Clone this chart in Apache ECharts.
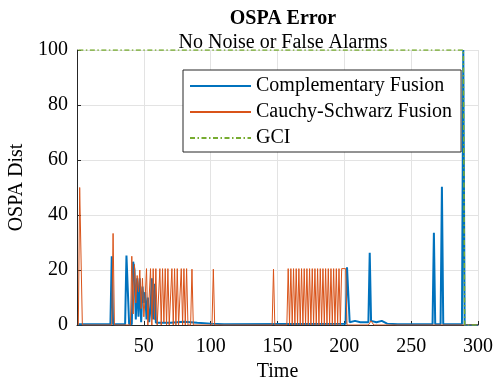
<!DOCTYPE html>
<html>
<head>
<meta charset="utf-8">
<script src="https://cdn.jsdelivr.net/npm/echarts@6/dist/echarts.min.js"></script>
<style>
  html, body { margin: 0; padding: 0; background: #fff; }
  #chart { width: 500px; height: 383px; }
</style>
</head>
<body>
<div id="chart"></div>
<script>
// OSPA distance over time for three fusion strategies, as [time, value] vertices.
const seriesNames = ['Complementary Fusion', 'Cauchy-Schwarz Fusion', 'GCI'];

const complementary = [
  [1, 0.3], [25, 0.3], [26, 25], [27, 0.3], [36, 0.3], [37, 25.3], [38, 25.3], [39, 0.3],
  [41, 0.3], [42, 23], [43, 20], [44, 2], [45, 17], [46, 3], [47, 17], [48, 1], [49, 14],
  [50, 8], [51, 12], [52, 2], [53, 10], [54, 1], [55, 6], [56, 17], [57, 2], [58, 15],
  [59, 0.8], [70, 0.8], [80, 1.2], [90, 0.8], [100, 0.5], [110, 0.3], [201, 0.5],
  [202, 21], [203, 21], [204, 1], [208, 1.5], [212, 1], [218, 1], [219, 26.3], [220, 1.5],
  [224, 1], [228, 1.5], [232, 0.5], [240, 0.3], [266, 0.3], [267, 33.5], [268, 0.3],
  [272, 0.3], [273, 50.3], [274, 0.3], [288, 0.3], [289, 100], [290, 0], [300, 0]
];

const cauchySchwarz = [
  [1, 0], [2, 50], [3, 50], [4, 0], [26, 0], [27, 33.3], [28, 0], [40, 0],
  [41, 25], [42, 4], [43, 22], [44, 8], [45, 18], [46, 12], [47, 20], [48, 6], [49, 17],
  [50, 3], [51, 10], [52, 20.5], [53, 0], [54, 0], [55, 20.5], [56, 0], [57, 20.5], [58, 2],
  [59, 20.5], [60, 0], [61, 0], [62, 20.5], [63, 0], [64, 20.5], [65, 1], [66, 20.5], [67, 0],
  [68, 20.5], [69, 0], [70, 0], [71, 20.5], [72, 0], [73, 20.5], [74, 0], [75, 20.5], [76, 0],
  [77, 0], [78, 20.5], [79, 0], [80, 20.5], [81, 0], [82, 20.5], [83, 0], [85, 0], [86, 20.3],
  [87, 0], [101, 0], [102, 20.3], [103, 0], [146, 0], [147, 20.3], [148, 0], [157, 0],
  [158, 20.5], [159, 0], [160, 20.5], [161, 0], [162, 20.5], [163, 0], [164, 20.5], [165, 0],
  [166, 20.5], [167, 0], [168, 20.5], [169, 0], [170, 20.5], [171, 0], [172, 20.5], [173, 0],
  [174, 20.5], [175, 0], [176, 20.5], [177, 0], [178, 20.5], [179, 0], [180, 20.5], [181, 0],
  [182, 20.5], [183, 0], [184, 20.5], [185, 0], [186, 20.5], [187, 0], [188, 20.5], [189, 0],
  [190, 20.5], [191, 0], [192, 20.5], [193, 0], [194, 20.5], [195, 0], [196, 20.5], [197, 0],
  [198, 20.5], [201, 20.5], [202, 0], [218, 0], [220, 1.5], [222, 0], [300, 0]
];

const gci = [[1, 100], [289, 100], [290, 0], [300, 0]];

const xTicks = [50, 100, 150, 200, 250, 300];
const yTicks = [0, 20, 40, 60, 80, 100];

const FONT = "'Liberation Serif', 'Times New Roman', serif";
const AXIS = '#262626';
const GRID = '#e3e3e3';

const chart = echarts.init(document.getElementById('chart'), null, { renderer: 'canvas' });

chart.setOption({
  animation: false,
  backgroundColor: '#fff',
  title: [
    {
      text: 'OSPA Error', left: 278, top: 4, textAlign: 'center',
      textStyle: { fontFamily: FONT, fontSize: 20, fontWeight: 'bold', color: '#000' }
    },
    {
      text: 'No Noise or False Alarms', left: 278, top: 28, textAlign: 'center',
      textStyle: { fontFamily: FONT, fontSize: 20, fontWeight: 'normal', color: '#000' }
    }
  ],
  grid: { left: 77, right: 22, top: 50, bottom: 58, containLabel: false, outerBoundsMode: 'none' },
  legend: {
    data: seriesNames,
    orient: 'vertical',
    left: 183, top: 70,
    padding: [6, 9, 4, 6],
    itemWidth: 61, itemHeight: 14, itemGap: 6,
    backgroundColor: '#fff', borderColor: AXIS, borderWidth: 1,
    itemStyle: { opacity: 0 },
    textStyle: { fontFamily: FONT, fontSize: 20, color: '#000' }
  },
  xAxis: {
    type: 'value', min: 0, max: 300, interval: 50,
    name: 'Time', nameLocation: 'middle', nameGap: 36,
    nameTextStyle: { fontFamily: FONT, fontSize: 20, color: '#000' },
    axisLine: { show: true, onZero: false, lineStyle: { color: AXIS, width: 1 } },
    axisTick: { show: true, inside: true, length: 4, lineStyle: { color: AXIS } },
    axisLabel: {
      fontFamily: FONT, fontSize: 20, color: '#000', margin: 12,
      formatter: v => (xTicks.indexOf(v) >= 0 ? String(v) : '')
    },
    splitLine: { show: true, lineStyle: { color: GRID, width: 1 } }
  },
  yAxis: {
    type: 'value', min: yTicks[0], max: yTicks[yTicks.length - 1], interval: 20,
    name: 'OSPA Dist', nameLocation: 'middle', nameGap: 36, nameRotate: 90,
    nameTextStyle: { fontFamily: FONT, fontSize: 20, color: '#000' },
    axisLine: { show: true, lineStyle: { color: AXIS, width: 1 } },
    axisTick: { show: true, inside: true, length: 4, lineStyle: { color: AXIS } },
    axisLabel: { fontFamily: FONT, fontSize: 20, color: '#000', margin: 9 },
    splitLine: { show: true, lineStyle: { color: GRID, width: 1 } }
  },
  series: [
    {
      name: seriesNames[0], type: 'line', data: complementary,
      symbol: 'none', lineStyle: { color: '#0072BD', width: 2 }, itemStyle: { color: '#0072BD' }
    },
    {
      name: seriesNames[1], type: 'line', data: cauchySchwarz,
      symbol: 'none', lineStyle: { color: '#D95319', width: 1 }, itemStyle: { color: '#D95319' }
    },
    {
      name: seriesNames[2], type: 'line', data: gci,
      symbol: 'none', lineStyle: { color: '#77AC30', width: 1.5, type: [5, 2.5, 1.5, 2.5] },
      itemStyle: { color: '#77AC30' }
    }
  ]
});
</script>
</body>
</html>
